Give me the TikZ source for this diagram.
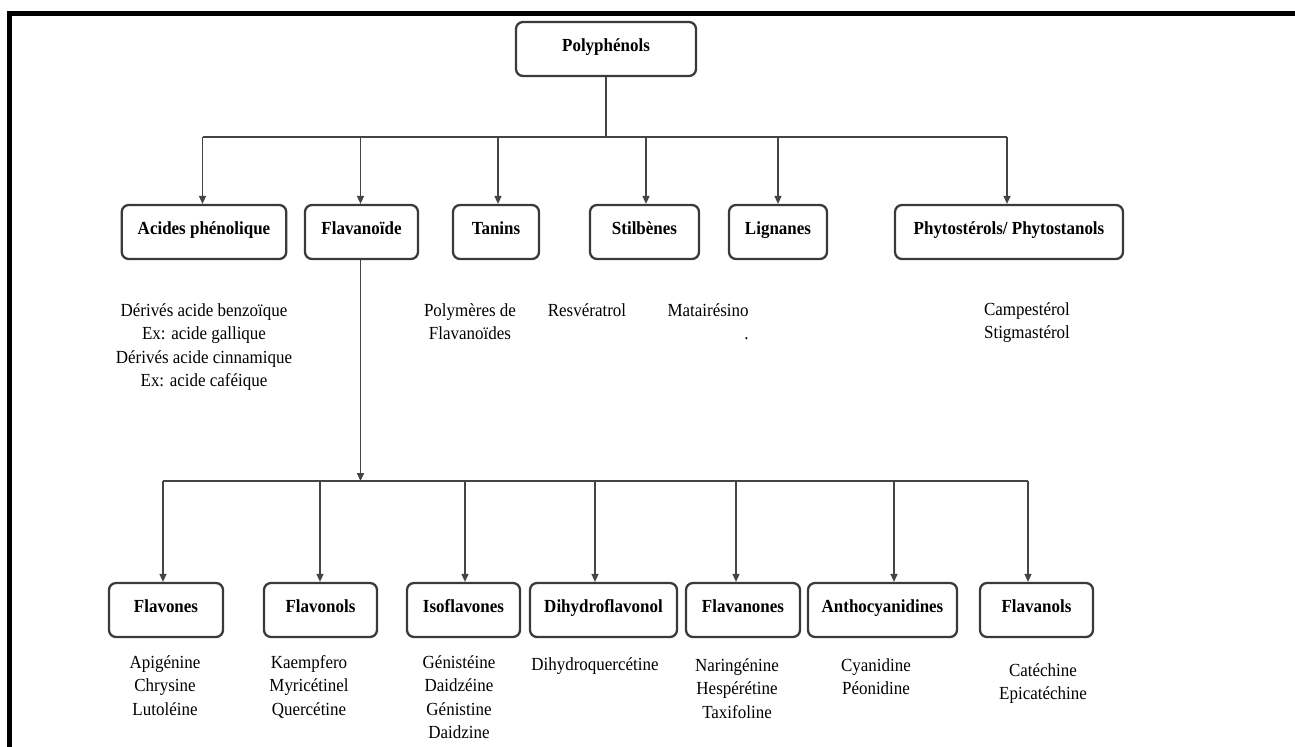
\documentclass[tikz,border=0pt]{standalone}
\usepackage{fontspec}
\setmainfont{Liberation Serif}[FakeStretch=0.92]
\usepackage{tikz}
\usetikzlibrary{positioning, arrows.meta, calc}
\definecolor{boxgray}{HTML}{3A3A3A}
\definecolor{linegray}{HTML}{444444}

\tikzset{
  classbox/.style={draw=boxgray, line width=1.3pt, rounded corners=4pt,
    minimum height=1.08cm, inner sep=0pt, text height=7.5pt, text depth=5pt,
    font=\fontsize{10.5}{13.4}\selectfont\bfseries},
  boxw/.style={minimum width=#1*0.02cm},
  examples/.style={align=center, anchor=north, inner sep=0pt,
    font=\fontsize{10.5}{13.4}\selectfont},
  link/.style={draw=linegray, line width=0.7pt},
  arr/.style={link, -{Triangle[length=4.5pt,width=4pt]}}
}

\begin{document}
\begin{tikzpicture}[x=0.02cm, y=-0.02cm]
    \useasboundingbox (0,0) rectangle (1295,747);
    \draw[line width=2.3pt] (9.5,747) -- (9.5,13.5) -- (1295,13.5);

    % top level
    \node[classbox, boxw=180] (poly) at (606,49) {Polyphénols};

    % second level
    \node[classbox, boxw=164.5] (acides) at (204,232) {Acides phénolique};
    \node[classbox, boxw=113] (flavo) at (361.5,232) {Flavanoïde};
    \node[classbox, boxw=86] (tanins) at (496,232) {Tanins};
    \node[classbox, boxw=109] (stilb) at (644.5,232) {Stilbènes};
    \node[classbox, boxw=98] (lign) at (778,232) {Lignanes};
    \node[classbox, boxw=228] (phyto) at (1009,232) {Phytostérols/ Phytostanols};

    \coordinate (bus1) at (606,137);
    \coordinate (b-acides) at (202.5,137);
    \coordinate (b-flavo) at (360.5,137);
    \coordinate (b-tanins) at (498,137);
    \coordinate (b-stilb) at (646,137);
    \coordinate (b-lign) at (778,137);
    \coordinate (b-phyto) at (1007,137);

    \draw[link] (poly.south -| bus1) -- (bus1);
    \draw[link] (b-acides) -- (b-phyto);
    \foreach \n in {acides, flavo, tanins, stilb, lign, phyto}
      \draw[arr] (b-\n) -- (b-\n |- \n.north);

    \node[examples] (acides-ex) at (204,303) {Dérivés acide benzoïque\\Ex: acide gallique\\Dérivés acide cinnamique\\Ex: acide caféique};
    \node[examples] (tanins-ex) at (470,303) {Polymères de\\Flavanoïdes};
    \node[examples] (stilb-ex) at (587,303) {Resvératrol};
    \node[examples, align=right, anchor=north east] (lign-ex) at (749,303) {Matairésino\\.};
    \node[examples] (phyto-ex) at (1027,302) {Campestérol\\Stigmastérol};

    % third level
    \node[classbox, boxw=114] (flavones) at (166,610) {Flavones};
    \node[classbox, boxw=113] (flavonols) at (320.5,610) {Flavonols};
    \node[classbox, boxw=113] (isofl) at (463.5,610) {Isoflavones};
    \node[classbox, boxw=147] (dihydro) at (603.5,610) {Dihydroflavonol};
    \node[classbox, boxw=114] (flavanones) at (743,610) {Flavanones};
    \node[classbox, boxw=149] (antho) at (882.5,610) {Anthocyanidines};
    \node[classbox, boxw=113] (flavanols) at (1036.5,610) {Flavanols};

    \coordinate (bus2) at (360.5,481);
    \coordinate (b-flavones) at (163,481);
    \coordinate (b-flavonols) at (320,481);
    \coordinate (b-isofl) at (465,481);
    \coordinate (b-dihydro) at (595,481);
    \coordinate (b-flavanones) at (736,481);
    \coordinate (b-antho) at (894,481);
    \coordinate (b-flavanols) at (1028,481);

    \draw[arr] (b-flavo |- flavo.south) -- (bus2);
    \draw[link] (b-flavones) -- (b-flavanols);
    \foreach \n in {flavones, flavonols, isofl, dihydro, flavanones, antho, flavanols}
      \draw[arr] (b-\n) -- (b-\n |- \n.north);

    \node[examples] (flavones-ex) at (165,655) {Apigénine\\Chrysine\\Lutoléine};
    \node[examples] (flavonols-ex) at (309,655) {Kaempfero\\Myricétinel\\Quercétine};
    \node[examples] (isofl-ex) at (459,655) {Génistéine\\Daidzéine\\Génistine\\Daidzine};
    \node[examples] (dihydro-ex) at (595,657) {Dihydroquercétine};
    \node[examples] (flavanones-ex) at (737,658) {Naringénine\\Hespérétine\\Taxifoline};
    \node[examples] (antho-ex) at (876,658) {Cyanidine\\Péonidine};
    \node[examples] (flavanols-ex) at (1043,663) {Catéchine\\Epicatéchine};
  \end{tikzpicture}
\end{document}
